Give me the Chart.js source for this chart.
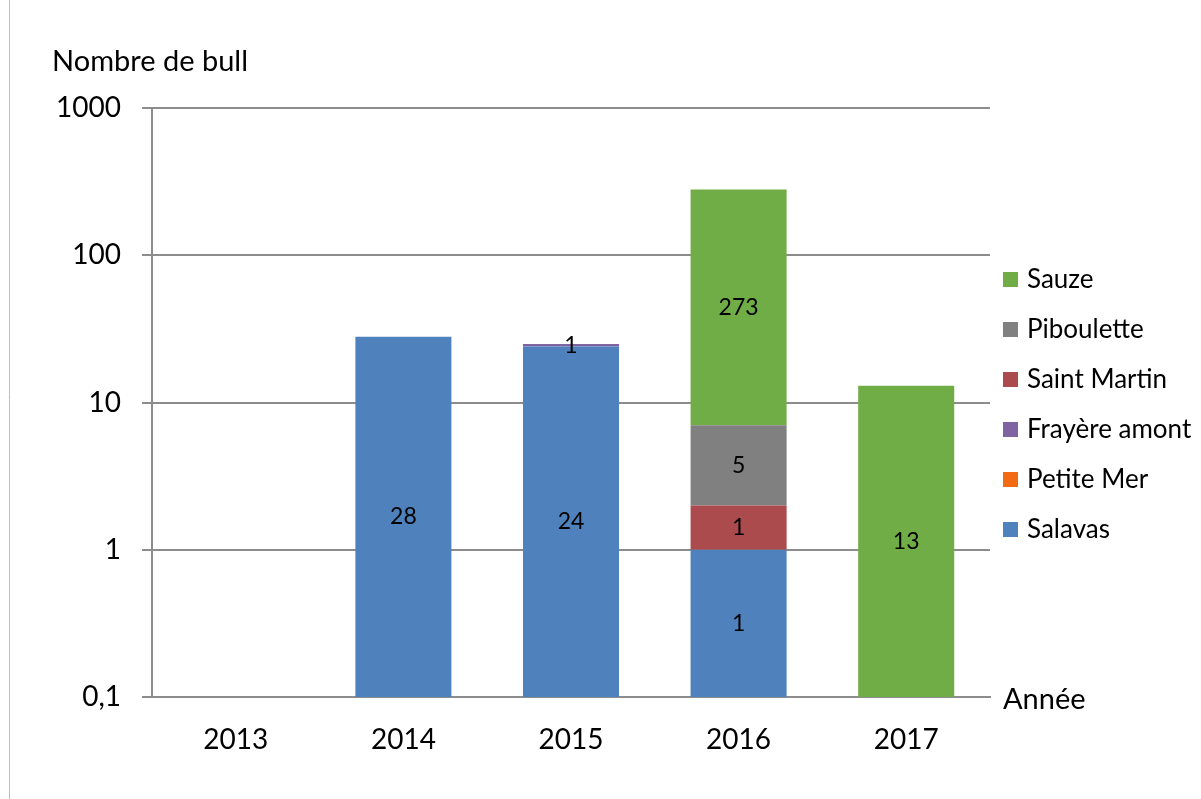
<!DOCTYPE html>
<html>
<head>
<meta charset="utf-8">
<script src="https://cdn.jsdelivr.net/npm/chart.js@4/dist/chart.umd.min.js"></script>
<style>
  body { margin: 0; background: #fff; }
  canvas { display: block; }
</style>
</head>
<body>
<canvas id="c" width="1201" height="799"></canvas>
<script>
// years on the x axis
const years = ['2013', '2014', '2015', '2016', '2017'];

// counts per site (null = nothing that year)
const salavas     = [null, 28, 24, 1, null];
const petiteMer   = [null, null, null, null, null];
const frayere     = [null, null, 1, null, null];
const saintMartin = [null, null, null, 1, null];
const piboulette  = [null, null, null, 5, null];
const sauze       = [null, null, null, 273, 13];

const yTicks = [0.1, 1, 10, 100, 1000];

const FONT = 'Lato, "Open Sans", sans-serif';
const GRID = '#8c8c8c';

// draws the values inside the bars, the axis titles and the legend
const extras = {
  id: 'extras',
  afterDatasetsDraw(chart) {
    const ctx = chart.ctx;
    ctx.save();
    ctx.fillStyle = '#000';
    ctx.font = '23px ' + FONT;
    ctx.textAlign = 'center';
    ctx.textBaseline = 'middle';
    chart.data.datasets.forEach((ds, i) => {
      const meta = chart.getDatasetMeta(i);
      meta.data.forEach((bar, j) => {
        const v = ds.data[j];
        if (v == null) return;
        const p = bar.getCenterPoint();
        ctx.fillText(String(v), p.x, p.y);
      });
    });
    ctx.restore();
  },
  afterDraw(chart) {
    const ctx = chart.ctx;
    ctx.save();
    // thin border on the far left
    ctx.strokeStyle = '#a9d18e';
    ctx.lineWidth = 1;
    ctx.beginPath();
    ctx.moveTo(9.5, 0);
    ctx.lineTo(9.5, 799);
    ctx.stroke();

    ctx.fillStyle = '#000';
    ctx.font = '29px ' + FONT;
    ctx.textBaseline = 'middle';
    ctx.textAlign = 'left';
    ctx.fillText('Nombre de bull', 52, 62);
    ctx.fillText('Année', 1003, 700);

    // legend, reversed order
    ctx.font = '26px ' + FONT;
    const sets = chart.data.datasets.slice().reverse();
    sets.forEach((ds, k) => {
      const y = 280 + k * 50;
      ctx.fillStyle = ds.backgroundColor;
      ctx.fillRect(1003, y - 8, 15, 15);
      ctx.fillStyle = '#000';
      ctx.fillText(ds.label, 1027, y);
    });
    ctx.restore();
  }
};

new Chart(document.getElementById('c'), {
  type: 'bar',
  data: {
    labels: years,
    datasets: [
      { label: 'Salavas', data: salavas, backgroundColor: '#4f81bd' },
      { label: 'Petite Mer', data: petiteMer, backgroundColor: '#f26b12' },
      { label: 'Frayère amont', data: frayere, backgroundColor: '#8064a2' },
      { label: 'Saint Martin', data: saintMartin, backgroundColor: '#ab4b4e' },
      { label: 'Piboulette', data: piboulette, backgroundColor: '#808080' },
      { label: 'Sauze', data: sauze, backgroundColor: '#70ad47' }
    ]
  },
  options: {
    responsive: false,
    animation: false,
    layout: { padding: { top: 108, right: 211, left: 0, bottom: 0 } },
    datasets: { bar: { barPercentage: 0.573, categoryPercentage: 1 } },
    plugins: { legend: { display: false }, tooltip: { enabled: false } },
    scales: {
      x: {
        stacked: true,
        grid: { display: false, drawTicks: false },
        border: { display: true, color: GRID, width: 2 },
        ticks: { color: '#000', font: { family: FONT, size: 28 }, padding: 26 },
        afterFit(s) { s.height = 102; }
      },
      y: {
        type: 'logarithmic',
        stacked: true,
        min: 0.1,
        max: 1000,
        afterBuildTicks(s) { s.ticks = yTicks.map(v => ({ value: v })); },
        grid: { color: GRID, lineWidth: 2, tickLength: 10 },
        border: { display: true, color: GRID, width: 2 },
        ticks: {
          color: '#000',
          font: { family: FONT, size: 28 },
          padding: 21,
          callback: v => String(v).replace('.', ',')
        },
        afterFit(s) { s.width = 152; }
      }
    }
  },
  plugins: [extras]
});
</script>
</body>
</html>
